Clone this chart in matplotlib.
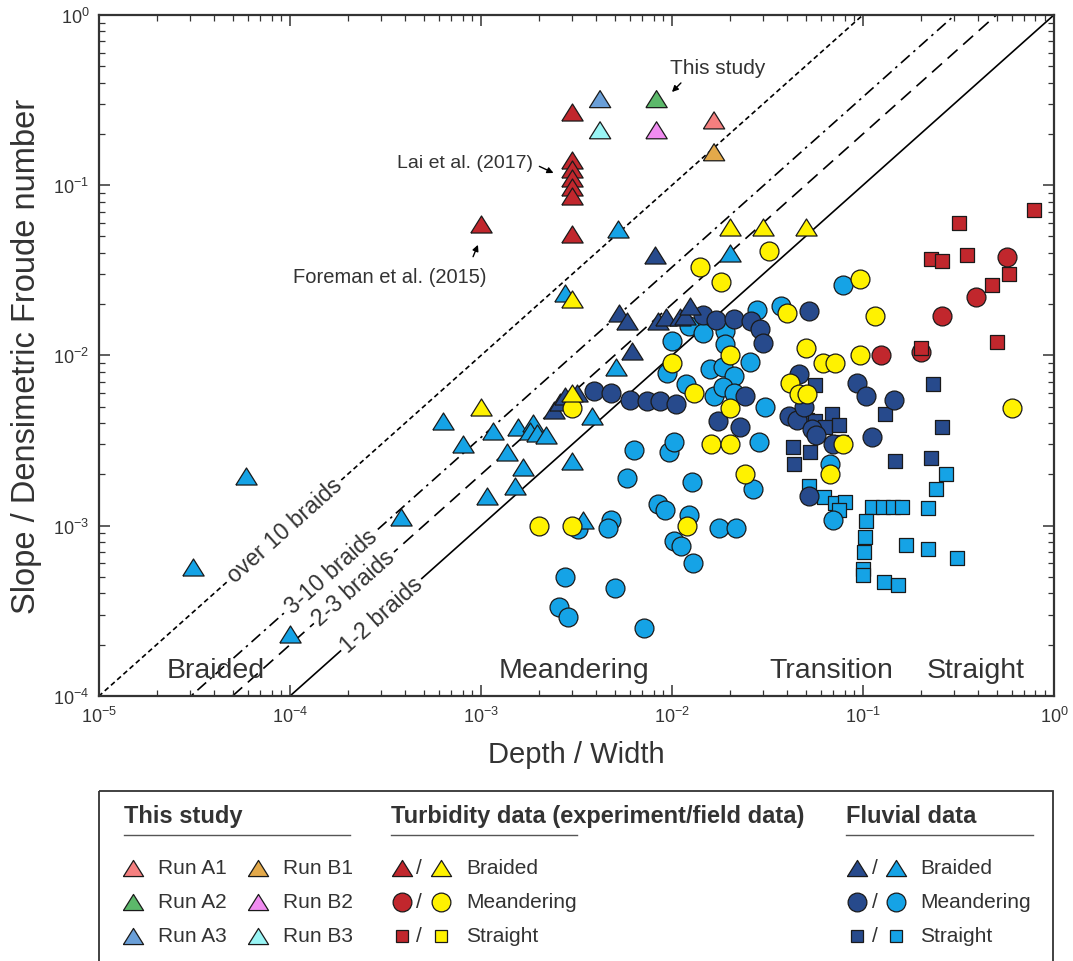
import numpy as np
import matplotlib
matplotlib.use("Agg")
import matplotlib.pyplot as plt
from matplotlib.patches import Rectangle
from matplotlib.ticker import LogLocator, NullFormatter

plt.rcParams['font.family'] = ['Liberation Sans', 'DejaVu Sans']
plt.rcParams['mathtext.fontset'] = 'custom'
plt.rcParams['mathtext.rm'] = 'Liberation Sans'

# ---- data (Depth/Width, Slope/Densimetric Froude number) ----
# this study
run_labels = ['Run A1', 'Run A2', 'Run A3', 'Run B1', 'Run B2', 'Run B3']
run_x = [1.66e-2, 8.3e-3, 4.2e-3, 1.66e-2, 8.3e-3, 4.2e-3]
run_y = [0.24, 0.32, 0.32, 0.156, 0.21, 0.21]
run_colors = ['#f47f7f', '#5cb86a', '#6a9fd8', '#e3a94a', '#f08cf0', '#99f5f5']

# turbidity data
turb_braid_red_x = [3.0e-3, 3.0e-3, 3.0e-3, 3.0e-3, 3.0e-3, 3.0e-3, 3.0e-3, 1.0e-3]
turb_braid_red_y = [0.27, 0.14, 0.125, 0.11, 0.097, 0.086, 0.052, 0.059]
turb_braid_yel_x = [3.0e-3, 2.0e-2, 3.0e-2, 5.0e-2, 1.0e-3, 3.0e-3]
turb_braid_yel_y = [0.0215, 0.057, 0.057, 0.057, 5.0e-3, 6.0e-3]

turb_mea_red_x = [0.565, 0.39, 0.26, 0.124, 0.2]
turb_mea_red_y = [0.038, 0.022, 0.017, 0.0101, 0.0105]
turb_mea_yel_x = [1.4e-2, 1.8e-2, 3.2e-2, 9.6e-2, 0.116, 4.0e-2, 5.0e-2, 9.6e-2, 2.0e-2,
                  1.0e-2, 6.2e-2, 7.1e-2, 4.15e-2, 4.6e-2, 5.07e-2, 1.3e-2, 2.0e-2, 3.0e-3,
                  1.6e-2, 2.0e-2, 7.9e-2, 2.4e-2, 6.7e-2, 0.6, 3.0e-3, 1.2e-2, 2.0e-3]
turb_mea_yel_y = [0.033, 0.027, 0.041, 0.028, 0.017, 0.0178, 0.011, 0.0101, 0.0101,
                  9.0e-3, 9.0e-3, 9.0e-3, 6.9e-3, 5.9e-3, 5.9e-3, 6.0e-3, 4.9e-3, 4.9e-3,
                  3.0e-3, 3.0e-3, 3.0e-3, 2.0e-3, 2.0e-3, 4.9e-3, 1.0e-3, 1.0e-3, 1.0e-3]

turb_str_red_x = [0.79, 0.32, 0.227, 0.26, 0.35, 0.58, 0.475, 0.5, 0.2]
turb_str_red_y = [0.071, 0.060, 0.037, 0.036, 0.039, 0.030, 0.026, 0.012, 0.011]

# fluvial data
flu_braid_dark_x = [8.1e-3, 5.3e-3, 5.8e-3, 6.2e-3, 8.4e-3, 9.3e-3, 1.1e-2, 1.17e-2, 1.24e-2,
                    2.4e-3, 2.6e-3, 2.75e-3, 3.17e-3]
flu_braid_dark_y = [0.039, 0.0178, 0.0159, 0.0106, 0.016, 0.0167, 0.0168, 0.017, 0.0195,
                    4.8e-3, 5.3e-3, 5.8e-3, 6.0e-3]
flu_braid_light_x = [3.1e-5, 5.9e-5, 1.0e-4, 3.8e-4, 6.3e-4, 8.0e-4, 1.16e-3, 1.36e-3, 1.65e-3,
                     1.07e-3, 1.5e-3, 1.57e-3, 1.88e-3, 1.8e-3, 1.96e-3, 2.2e-3, 3.0e-3, 3.8e-3,
                     2.75e-3, 5.1e-3, 5.2e-3, 2.0e-2, 3.4e-3]
flu_braid_light_y = [5.7e-4, 1.95e-3, 2.3e-4, 1.13e-3, 4.1e-3, 3.0e-3, 3.6e-3, 2.7e-3, 2.2e-3,
                     1.5e-3, 1.7e-3, 3.8e-3, 4.0e-3, 3.6e-3, 3.5e-3, 3.4e-3, 2.4e-3, 4.4e-3,
                     0.0234, 8.5e-3, 0.055, 0.040, 1.08e-3]

flu_mea_dark_x = [3.9e-3, 4.8e-3, 6.0e-3, 7.4e-3, 8.6e-3, 1.05e-2,
                  1.45e-2, 1.7e-2, 2.1e-2, 2.6e-2, 2.9e-2, 3.0e-2,
                  5.2e-2, 2.4e-2, 1.75e-2, 2.27e-2,
                  4.6e-2, 4.1e-2, 4.5e-2, 4.9e-2, 5.4e-2, 5.7e-2, 7.0e-2,
                  9.3e-2, 0.104, 0.146, 0.111, 5.2e-2]
flu_mea_dark_y = [6.2e-3, 6.0e-3, 5.5e-3, 5.4e-3, 5.4e-3, 5.2e-3,
                  0.0172, 0.0162, 0.0163, 0.0159, 0.0142, 0.0119,
                  0.0182, 5.8e-3, 4.1e-3, 3.8e-3,
                  7.8e-3, 4.4e-3, 4.2e-3, 5.0e-3, 3.7e-3, 3.4e-3, 3.0e-3,
                  6.9e-3, 5.8e-3, 5.5e-3, 3.3e-3, 1.5e-3]
flu_mea_light_x = [6.3e-3, 9.6e-3, 1.02e-2, 2.85e-2, 5.8e-3, 1.28e-2, 2.65e-2, 8.4e-3, 9.2e-3,
                   1.22e-2, 1.76e-2, 2.15e-2, 4.8e-3, 4.64e-3, 3.2e-3, 1.02e-2, 1.12e-2, 1.29e-2,
                   2.75e-3, 5.0e-3, 2.57e-3, 2.86e-3, 7.1e-3,
                   2.78e-2, 3.7e-2, 1.22e-2, 1.46e-2, 1.9e-2, 1.0e-2, 1.9e-2, 2.56e-2, 1.58e-2,
                   1.86e-2, 2.1e-2, 9.4e-3, 1.19e-2, 1.66e-2, 1.86e-2, 2.1e-2, 3.07e-2, 6.7e-2,
                   7.0e-2, 7.9e-2]
flu_mea_light_y = [2.8e-3, 2.7e-3, 3.1e-3, 3.1e-3, 1.9e-3, 1.8e-3, 1.65e-3, 1.35e-3, 1.23e-3,
                   1.16e-3, 9.7e-4, 9.7e-4, 1.08e-3, 9.7e-4, 9.6e-4, 8.1e-4, 7.6e-4, 6.0e-4,
                   5.0e-4, 4.3e-4, 3.35e-4, 2.9e-4, 2.5e-4,
                   0.0186, 0.0195, 0.0149, 0.0136, 0.0139, 0.0121, 0.0116, 9.1e-3, 8.3e-3,
                   8.5e-3, 7.6e-3, 7.9e-3, 6.8e-3, 5.8e-3, 6.5e-3, 6.0e-3, 5.0e-3, 2.3e-3,
                   1.08e-3, 0.026]

flu_str_dark_x = [5.6e-2, 6.9e-2, 5.07e-2, 5.6e-2, 6.3e-2, 7.5e-2, 4.3e-2, 5.28e-2, 4.37e-2,
                  0.233, 0.131, 0.26, 0.147, 0.227, 7.7e-2]
flu_str_dark_y = [6.7e-3, 4.5e-3, 4.2e-3, 4.1e-3, 3.8e-3, 3.9e-3, 2.9e-3, 2.7e-3, 2.3e-3,
                  6.8e-3, 4.5e-3, 3.8e-3, 2.4e-3, 2.5e-3, 3.1e-3]
flu_str_light_x = [5.2e-2, 6.25e-2, 7.1e-2, 8.05e-2, 7.5e-2, 0.111, 0.128, 0.143, 0.16, 0.218,
                   0.241, 0.272, 0.104, 0.1025, 0.101, 0.1, 0.1, 0.167, 0.218, 0.312, 0.129, 0.153]
flu_str_light_y = [1.7e-3, 1.47e-3, 1.36e-3, 1.37e-3, 1.24e-3, 1.28e-3, 1.28e-3, 1.28e-3, 1.28e-3,
                   1.27e-3, 1.65e-3, 2.0e-3, 1.06e-3, 8.6e-4, 7.0e-4, 5.6e-4, 5.1e-4, 7.7e-4,
                   7.3e-4, 6.5e-4, 4.7e-4, 4.5e-4]

# braid boundary lines: S/Fr = k * (D/W)
braid_labels = ['over 10 braids', '3-10 braids', '2-3 braids', '1-2 braids']
braid_k = [10.0, 3.3, 2.0, 1.0]
braid_label_x = [9.4e-5, 1.64e-4, 2.16e-4, 3.0e-4]
braid_styles = [(0, (3, 2)), (0, (7, 3, 1.5, 3)), (0, (8, 4.5)), '-']

regions = ['Braided', 'Meandering', 'Transition', 'Straight']
region_x = [4.1e-5, 3.07e-3, 6.8e-2, 0.39]

# colours
RED = '#c1272d'
YEL = '#fff200'
DARK = '#274a8c'
LIGHT = '#15a3e6'
EDGE = '#1a1a1a'
TXT = '#333333'

tri = [(-1, -0.8), (1, -0.8), (0, 0.8), (-1, -0.8)]

fig = plt.figure(figsize=(10.73, 9.62), dpi=100)
ax = fig.add_axes([0.0923, 0.2755, 0.890, 0.708])
ax.set_xscale('log')
ax.set_yscale('log')
ax.set_xlim(1e-5, 1)
ax.set_ylim(1e-4, 1)

# boundary lines
xx = np.logspace(-6, 1, 50)
for k, ls in zip(braid_k, braid_styles):
    ax.plot(xx, k * xx, color='black', lw=1.2, ls=ls, zorder=1)

w_px = 0.890 * 1073
h_px = 0.708 * 962
ang = np.degrees(np.arctan2(h_px / 4, w_px / 5))
for lab, k, lx in zip(braid_labels, braid_k, braid_label_x):
    ax.text(lx, k * lx, lab, rotation=ang, rotation_mode='anchor', ha='center', va='center',
            fontsize=16.5, color=TXT, zorder=2,
            bbox=dict(boxstyle='square,pad=0.12', fc='white', ec='none'))

kw = dict(edgecolors=EDGE, linewidths=0.9)
S_TRI, S_CIR, S_SQ = 235, 185, 92
# fluvial
ax.scatter(flu_str_light_x, flu_str_light_y, marker='s', s=S_SQ, c=LIGHT, zorder=3, **kw)
ax.scatter(flu_str_dark_x, flu_str_dark_y, marker='s', s=S_SQ, c=DARK, zorder=3, **kw)
ax.scatter(flu_mea_light_x, flu_mea_light_y, marker='o', s=S_CIR, c=LIGHT, zorder=4, **kw)
ax.scatter(flu_braid_light_x, flu_braid_light_y, marker=tri, s=S_TRI, c=LIGHT, zorder=4, **kw)
ax.scatter(flu_mea_dark_x, flu_mea_dark_y, marker='o', s=S_CIR, c=DARK, zorder=5, **kw)
ax.scatter(flu_braid_dark_x, flu_braid_dark_y, marker=tri, s=S_TRI, c=DARK, zorder=5, **kw)
# turbidity
ax.scatter(turb_mea_red_x, turb_mea_red_y, marker='o', s=S_CIR, c=RED, zorder=6, **kw)
ax.scatter(turb_str_red_x, turb_str_red_y, marker='s', s=S_SQ, c=RED, zorder=6, **kw)
ax.scatter(turb_mea_yel_x, turb_mea_yel_y, marker='o', s=S_CIR, c=YEL, zorder=6, **kw)
ax.scatter(turb_braid_yel_x, turb_braid_yel_y, marker=tri, s=S_TRI, c=YEL, zorder=6, **kw)
ax.scatter(turb_braid_red_x, turb_braid_red_y, marker=tri, s=S_TRI, c=RED, zorder=6, **kw)
# this study
ax.scatter(run_x, run_y, marker=tri, s=S_TRI, c=run_colors, zorder=7, **kw)

# annotations
arrow = dict(arrowstyle='-|>', color='black', lw=1.0, mutation_scale=9)
ax.annotate('', xy=(9.76e-3, 0.343), xytext=(1.14e-2, 0.409), arrowprops=arrow, zorder=8)
ax.text(1.74e-2, 0.488, 'This study', fontsize=15, color=TXT, ha='center', va='center')
ax.annotate('', xy=(2.47e-3, 0.116), xytext=(1.96e-3, 0.131), arrowprops=arrow, zorder=8)
ax.text(1.87e-3, 0.1365, 'Lai et al. (2017)', fontsize=14, color=TXT, ha='right', va='center')
ax.annotate('', xy=(9.76e-4, 0.0462), xytext=(8.97e-4, 0.0367), arrowprops=arrow, zorder=8)
ax.text(3.34e-4, 0.0292, 'Foreman et al. (2015)', fontsize=14.5, color=TXT, ha='center', va='center')

for lab, rx in zip(regions, region_x):
    ax.text(rx, 1.42e-4, lab, fontsize=20.5, color=TXT, ha='center', va='center')

ax.set_xlabel('Depth / Width', fontsize=21, color=TXT, labelpad=10)
ax.set_ylabel('Slope / Densimetric Froude number', fontsize=23.5, color=TXT, labelpad=8)

for a in (ax.xaxis, ax.yaxis):
    a.set_major_locator(LogLocator(base=10, numticks=10))
    a.set_minor_locator(LogLocator(base=10, subs=np.arange(2, 10), numticks=10))
    a.set_minor_formatter(NullFormatter())
ax.tick_params(which='both', direction='in', top=True, right=True, colors='#333333',
               labelsize=13, labelcolor=TXT)
ax.tick_params(which='major', length=8, width=1.1, pad=7)
ax.tick_params(which='minor', length=4.5, width=0.9)
for sp in ax.spines.values():
    sp.set_linewidth(1.6)
    sp.set_color('#333333')

# ---- legend panel (pixel coordinates) ----
lg = fig.add_axes([0, 0, 1, 1], facecolor='none')
lg.set_xlim(0, 1073)
lg.set_ylim(962, 0)
lg.axis('off')
lg.add_patch(Rectangle((99, 792), 954, 200, fill=False, ec='#333333', lw=1.3, clip_on=False))

heads = ['This study', 'Turbidity data (experiment/field data)', 'Fluvial data']
head_x = [124, 391, 846]
line_end = [350, 577, 1033]
for h, hx, he in zip(heads, head_x, line_end):
    lg.text(hx, 817, h, fontsize=17, fontweight='bold', color=TXT, ha='left', va='center')
    lg.plot([hx, he], [836, 836], color='#555555', lw=1.0)

rows = [869, 903, 937]
mk = dict(ls='none', mec=EDGE, mew=0.9)
for i, ry in enumerate(rows):
    lg.plot(133, ry, marker=tri, ms=14.5, mfc=run_colors[i], **mk)
    lg.text(158, ry, run_labels[i], fontsize=15, color=TXT, va='center')
    lg.plot(258, ry, marker=tri, ms=14.5, mfc=run_colors[i + 3], **mk)
    lg.text(283, ry, run_labels[i + 3], fontsize=15, color=TXT, va='center')

kinds = ['Braided', 'Meandering', 'Straight']
kind_mk = [(tri, 14.5), ('o', 13.5), ('s', 8.5)]
for ry, kname, (m, ms) in zip(rows, kinds, kind_mk):
    lg.plot(402, ry, marker=m, ms=ms, mfc=RED, **mk)
    lg.text(419, ry, '/', fontsize=15, color=TXT, ha='center', va='center')
    lg.plot(441, ry, marker=m, ms=ms, mfc=YEL, **mk)
    lg.text(466, ry, kname, fontsize=15, color=TXT, va='center')
    lg.plot(857, ry, marker=m, ms=ms, mfc=DARK, **mk)
    lg.text(875, ry, '/', fontsize=15, color=TXT, ha='center', va='center')
    lg.plot(896, ry, marker=m, ms=ms, mfc=LIGHT, **mk)
    lg.text(920, ry, kname, fontsize=15, color=TXT, va='center')

fig.savefig('out.png', dpi=100, facecolor='white')
